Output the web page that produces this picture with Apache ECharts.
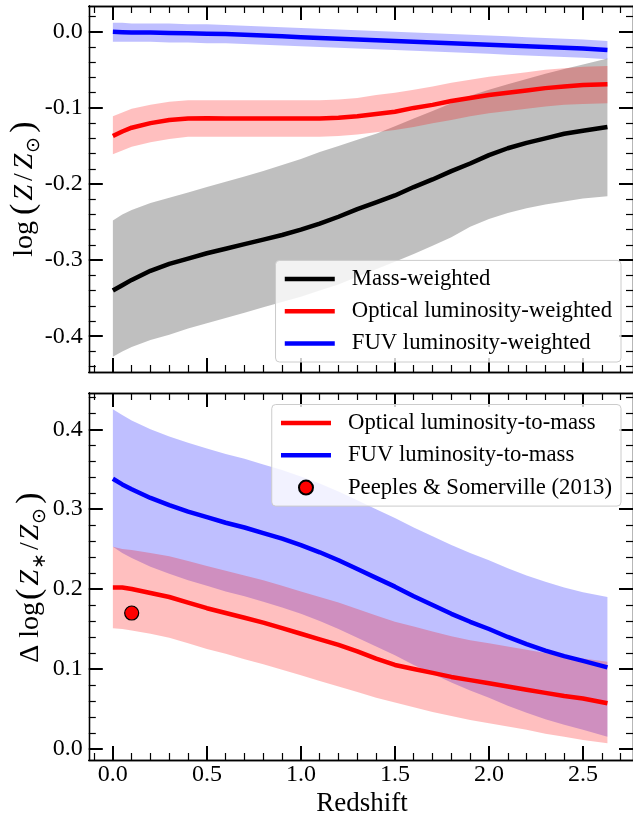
<!DOCTYPE html>
<html>
<head>
<meta charset="utf-8">
<script src="https://cdn.jsdelivr.net/npm/echarts@6/dist/echarts.min.js"></script>
<style>
  html, body { margin: 0; padding: 0; background: #ffffff; }
  #chart { width: 633px; height: 818px; }
</style>
</head>
<body>
<div id="chart"></div>
<script>
// Redshift sampling shared by every curve
const redshift = [0, 0.05, 0.1, 0.2, 0.3, 0.4, 0.5, 0.6, 0.7, 0.8, 0.9, 1.0, 1.1, 1.2, 1.3, 1.4,
                  1.5, 1.6, 1.7, 1.8, 1.9, 2.0, 2.1, 2.2, 2.3, 2.4, 2.5, 2.63];

// Upper panel: log(Z/Zsun), median and 16-84 percentile band
const massMed = [-0.340, -0.333, -0.326, -0.314, -0.305, -0.298, -0.291, -0.285, -0.279, -0.273, -0.267, -0.260, -0.252, -0.243,
                 -0.233, -0.224, -0.215, -0.204, -0.194, -0.183, -0.173, -0.162, -0.153, -0.146, -0.140, -0.134, -0.130, -0.125];
const massHi  = [-0.248, -0.240, -0.234, -0.225, -0.218, -0.211, -0.204, -0.197, -0.190, -0.183, -0.175, -0.167, -0.158, -0.150,
                 -0.142, -0.134, -0.124, -0.114, -0.104, -0.094, -0.084, -0.076, -0.069, -0.062, -0.055, -0.049, -0.043, -0.035];
const massLo  = [-0.427, -0.420, -0.414, -0.405, -0.398, -0.390, -0.383, -0.376, -0.369, -0.362, -0.355, -0.348, -0.340, -0.332,
                 -0.322, -0.312, -0.302, -0.292, -0.281, -0.270, -0.256, -0.246, -0.238, -0.232, -0.227, -0.223, -0.219, -0.216];

const optMed = [-0.137, -0.131, -0.126, -0.120, -0.116, -0.114, -0.1135, -0.114, -0.114, -0.114, -0.114, -0.114, -0.114, -0.113,
                -0.111, -0.108, -0.105, -0.100, -0.096, -0.091, -0.087, -0.083, -0.080, -0.077, -0.074, -0.072, -0.070, -0.069];
const optHi  = [-0.111, -0.106, -0.101, -0.096, -0.092, -0.090, -0.090, -0.090, -0.090, -0.090, -0.090, -0.090, -0.090, -0.089,
                -0.087, -0.083, -0.080, -0.076, -0.072, -0.067, -0.063, -0.059, -0.056, -0.053, -0.050, -0.048, -0.046, -0.045];
const optLo  = [-0.161, -0.156, -0.151, -0.145, -0.141, -0.138, -0.138, -0.138, -0.138, -0.138, -0.138, -0.138, -0.138, -0.137,
                -0.135, -0.132, -0.129, -0.125, -0.120, -0.116, -0.111, -0.107, -0.104, -0.101, -0.098, -0.096, -0.095, -0.094];

const fuvMed = [0.000, -0.0005, -0.001, -0.001, -0.0015, -0.002, -0.0025, -0.003, -0.004, -0.005, -0.006, -0.007, -0.008, -0.009,
                -0.010, -0.011, -0.012, -0.013, -0.014, -0.015, -0.016, -0.017, -0.018, -0.019, -0.020, -0.021, -0.022, -0.024];
const fuvHi  = [0.012, 0.012, 0.011, 0.011, 0.011, 0.010, 0.010, 0.009, 0.008, 0.007, 0.006, 0.005, 0.004, 0.003,
                0.002, 0.001, 0.000, -0.001, -0.002, -0.003, -0.004, -0.005, -0.006, -0.007, -0.008, -0.009, -0.010, -0.012];
const fuvLo  = [-0.013, -0.013, -0.013, -0.013, -0.014, -0.014, -0.015, -0.015, -0.016, -0.017, -0.018, -0.019, -0.020, -0.021,
                -0.022, -0.023, -0.024, -0.025, -0.026, -0.027, -0.028, -0.029, -0.030, -0.031, -0.032, -0.033, -0.034, -0.036];

// Lower panel: luminosity-to-mass offsets
const optDeltaMed = [0.202, 0.202, 0.200, 0.195, 0.190, 0.183, 0.176, 0.170, 0.164, 0.158, 0.151, 0.144, 0.137, 0.130,
                     0.122, 0.113, 0.105, 0.100, 0.095, 0.090, 0.086, 0.082, 0.078, 0.074, 0.070, 0.066, 0.063, 0.057];
const optDeltaHi  = [0.253, 0.250, 0.249, 0.245, 0.241, 0.235, 0.229, 0.223, 0.217, 0.211, 0.204, 0.197, 0.190, 0.183,
                     0.175, 0.167, 0.159, 0.153, 0.147, 0.141, 0.136, 0.132, 0.128, 0.124, 0.120, 0.116, 0.113, 0.109];
const optDeltaLo  = [0.151, 0.150, 0.148, 0.144, 0.139, 0.132, 0.125, 0.119, 0.112, 0.106, 0.099, 0.092, 0.085, 0.078,
                     0.071, 0.064, 0.058, 0.052, 0.046, 0.041, 0.036, 0.032, 0.028, 0.024, 0.019, 0.015, 0.011, 0.007];

const fuvDeltaMed = [0.338, 0.331, 0.325, 0.314, 0.305, 0.297, 0.290, 0.283, 0.277, 0.270, 0.263, 0.255, 0.246, 0.236,
                     0.225, 0.214, 0.203, 0.191, 0.180, 0.169, 0.159, 0.150, 0.140, 0.131, 0.123, 0.116, 0.110, 0.102];
const fuvDeltaHi  = [0.425, 0.418, 0.411, 0.400, 0.391, 0.383, 0.376, 0.369, 0.363, 0.356, 0.349, 0.341, 0.332, 0.322,
                     0.311, 0.300, 0.289, 0.277, 0.266, 0.255, 0.245, 0.236, 0.226, 0.217, 0.209, 0.202, 0.196, 0.190];
const fuvDeltaLo  = [0.253, 0.245, 0.239, 0.228, 0.219, 0.211, 0.204, 0.197, 0.191, 0.184, 0.177, 0.169, 0.160, 0.150,
                     0.139, 0.128, 0.117, 0.105, 0.094, 0.083, 0.073, 0.064, 0.054, 0.045, 0.037, 0.030, 0.024, 0.015];

// Observational point
const peeplesZ = [0.1];
const peeplesDelta = [0.17];

// Tick positions
const xMajor = [0, 0.5, 1.0, 1.5, 2.0, 2.5];
const xMinor = [-0.1, 0.1, 0.2, 0.3, 0.4, 0.6, 0.7, 0.8, 0.9, 1.1, 1.2, 1.3, 1.4, 1.6, 1.7, 1.8, 1.9,
                2.1, 2.2, 2.3, 2.4, 2.6, 2.7];
const yTopMajor = [-0.4, -0.3, -0.2, -0.1, 0.0];
const yTopMinor = [-0.44, -0.42, -0.38, -0.36, -0.34, -0.32, -0.28, -0.26, -0.24, -0.22, -0.18, -0.16, -0.14, -0.12,
                   -0.08, -0.06, -0.04, -0.02, 0.02];
const yBotMajor = [0.0, 0.1, 0.2, 0.3, 0.4];
const yBotMinor = [0.02, 0.04, 0.06, 0.08, 0.12, 0.14, 0.16, 0.18, 0.22, 0.24, 0.26, 0.28, 0.32, 0.34, 0.36, 0.38, 0.42, 0.44];

const legendTop = ['Mass-weighted', 'Optical luminosity-weighted', 'FUV luminosity-weighted'];
const legendBottom = ['Optical luminosity-to-mass', 'FUV luminosity-to-mass', 'Peeples & Somerville (2013)'];

const FONT = 'Liberation Serif';
const X_RANGE = [-0.128, 2.766];
const Y_TOP_RANGE = [-0.447, 0.0339];
const Y_BOT_RANGE = [-0.014, 0.4454];
const LINE_W = 4.5;

const fmt1 = v => Number(v).toFixed(1);

// One side of a frame: a major-tick axis (optionally labelled) and a minor-tick axis
function sideAxes(gridIndex, position, range, major, minor, labelled, labelMargin) {
  const common = {
    type: 'value', gridIndex, position, min: range[0], max: range[1],
    splitLine: { show: false },
    axisLine: { show: true, onZero: false, lineStyle: { color: '#000', width: 1.3 } }
  };
  return [
    Object.assign({}, common, {
      axisTick: { show: true, inside: true, length: 14, customValues: major,
                  lineStyle: { color: '#000', width: 2 } },
      axisLabel: { show: labelled, customValues: major, formatter: fmt1, margin: labelMargin,
                   fontFamily: FONT, fontSize: 24, color: '#000' }
    }),
    Object.assign({}, common, {
      axisTick: { show: true, inside: true, length: 7, customValues: minor,
                  lineStyle: { color: '#000', width: 1.2 } },
      axisLabel: { show: false }
    })
  ];
}

const xAxes = [
  ...sideAxes(0, 'bottom', X_RANGE, xMajor, xMinor, false, 3),
  ...sideAxes(0, 'top', X_RANGE, xMajor, xMinor, false, 3),
  ...sideAxes(1, 'bottom', X_RANGE, xMajor, xMinor, true, 3),
  ...sideAxes(1, 'top', X_RANGE, xMajor, xMinor, false, 3)
];
const yAxes = [
  ...sideAxes(0, 'left', Y_TOP_RANGE, yTopMajor, yTopMinor, true, 6),
  ...sideAxes(0, 'right', Y_TOP_RANGE, yTopMajor, yTopMinor, false, 6),
  ...sideAxes(1, 'left', Y_BOT_RANGE, yBotMajor, yBotMinor, true, 6),
  ...sideAxes(1, 'right', Y_BOT_RANGE, yBotMajor, yBotMinor, false, 6)
];

const pairs = (xs, ys) => xs.map((x, i) => [x, ys[i]]);

// Shaded percentile band drawn as one polygon through the axis scales
function band(name, axisIdx, lo, hi, color) {
  return {
    name, type: 'custom', xAxisIndex: axisIdx, yAxisIndex: axisIdx, silent: true, clip: true,
    data: [[redshift[0], lo[0]]],
    renderItem: (params, api) => {
      const pts = [];
      for (let i = 0; i < redshift.length; i++) pts.push(api.coord([redshift[i], hi[i]]));
      for (let i = redshift.length - 1; i >= 0; i--) pts.push(api.coord([redshift[i], lo[i]]));
      return { type: 'polygon', shape: { points: pts }, style: { fill: color } };
    }
  };
}

function curve(name, axisIdx, ys, color) {
  return {
    name, type: 'line', xAxisIndex: axisIdx, yAxisIndex: axisIdx,
    data: pairs(redshift, ys), symbol: 'none', showSymbol: false,
    lineStyle: { color, width: LINE_W }, itemStyle: { color }, silent: true
  };
}

const series = [
  band('mass band', 0, massLo, massHi, 'rgba(0,0,0,0.25)'),
  curve(legendTop[0], 0, massMed, '#000000'),
  band('optical band', 0, optLo, optHi, 'rgba(255,0,0,0.25)'),
  curve(legendTop[1], 0, optMed, '#ff0000'),
  band('fuv band', 0, fuvLo, fuvHi, 'rgba(0,0,255,0.25)'),
  curve(legendTop[2], 0, fuvMed, '#0000ff'),

  band('fuv delta band', 4, fuvDeltaLo, fuvDeltaHi, 'rgba(0,0,255,0.25)'),
  band('optical delta band', 4, optDeltaLo, optDeltaHi, 'rgba(255,0,0,0.25)'),
  curve(legendBottom[0], 4, optDeltaMed, '#ff0000'),
  curve(legendBottom[1], 4, fuvDeltaMed, '#0000ff'),
  {
    name: legendBottom[2], type: 'scatter', xAxisIndex: 4, yAxisIndex: 4,
    data: pairs(peeplesZ, peeplesDelta), symbol: 'circle', symbolSize: 14, z: 5,
    itemStyle: { color: '#ff0000', borderColor: '#000000', borderWidth: 1.2, opacity: 1 }, silent: true
  }
];

function legendBox(names, top, circleLast) {
  return {
    orient: 'vertical', right: 12, top,
    data: names.map((n, i) => (circleLast && i === names.length - 1)
      ? { name: n, itemStyle: { opacity: 1 } }
      : { name: n, itemStyle: { opacity: 0 } }),
    itemWidth: 50, itemHeight: 14, itemGap: 8.3,
    padding: [6.5, 9, 6.5, 7],
    lineStyle: { width: LINE_W },
    backgroundColor: 'rgba(255,255,255,0.8)', borderColor: '#cccccc', borderWidth: 1, borderRadius: 4,
    selectedMode: false,
    textStyle: { fontFamily: FONT, fontSize: 22.7, color: '#000', lineHeight: 24, padding: [0, 0, 0, 12] }
  };
}

const labelRich = {
  n: { fontFamily: FONT, fontSize: 28, lineHeight: 38, fill: '#000' },
  g: { fontFamily: FONT, fontSize: 28, lineHeight: 38, fill: '#000', padding: [0, 6, 0, 0] },
  g2: { fontFamily: FONT, fontSize: 28, lineHeight: 38, fill: '#000', padding: [0, 2, 0, 0] },
  i: { fontFamily: FONT, fontSize: 28, lineHeight: 38, fontStyle: 'italic', fill: '#000' },
  sl: { fontFamily: FONT, fontSize: 28, lineHeight: 38, fill: '#000', padding: [0, 4, 0, 4] },
  sl2: { fontFamily: FONT, fontSize: 28, lineHeight: 38, fill: '#000', padding: [0, 2, 0, 2] },
  po: { fontFamily: FONT, fontSize: 34, lineHeight: 38, fill: '#000', padding: [0, 3, 0, 0] },
  pc: { fontFamily: FONT, fontSize: 34, lineHeight: 38, fill: '#000', padding: [0, 0, 0, 3] },
  s: { fontFamily: FONT, fontSize: 19, lineHeight: 19, verticalAlign: 'bottom', fill: '#000', padding: [0, 1, 0, 1] }
};

const chart = echarts.init(document.getElementById('chart'), null, { renderer: 'canvas' });
chart.setOption({
  animation: false,
  backgroundColor: '#ffffff',
  grid: [
    { left: 88.8, width: 545, top: 6, height: 366 },
    { left: 88.8, width: 545, top: 393, height: 367 }
  ],
  xAxis: xAxes,
  yAxis: yAxes,
  legend: [legendBox(legendTop, 260.4, false), legendBox(legendBottom, 404.5, true)],
  series,
  graphic: [
    { type: 'text', x: 24.5, y: 189, rotation: Math.PI / 2,
      style: { text: '{g|log}{po|(}{i|Z}{sl|/}{i|Z}{s|⊙}{pc|)}', rich: labelRich, align: 'center', verticalAlign: 'middle' } },
    { type: 'text', x: 30.5, y: 577.5, rotation: Math.PI / 2,
      style: { text: '{g2|Δ log}{po|(}{i|Z}{s|∗}{sl2|/}{i|Z}{s|⊙}{pc|)}', rich: labelRich, align: 'center', verticalAlign: 'middle' } },
    { type: 'text', x: 362, y: 804,
      style: { text: 'Redshift', fontFamily: FONT, fontSize: 27, fill: '#000', align: 'center', verticalAlign: 'middle' } }
  ]
});
</script>
</body>
</html>
